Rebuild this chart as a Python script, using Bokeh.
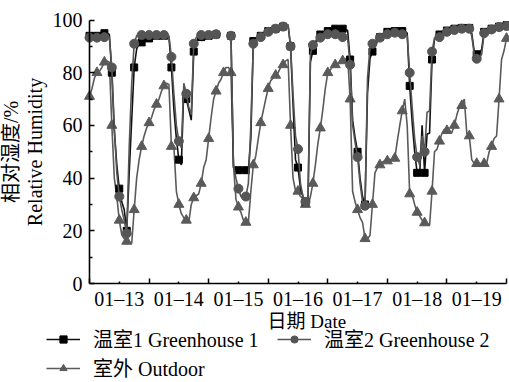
import numpy as np
from bokeh.plotting import figure
from bokeh.models import (Range1d, FixedTicker, Legend, LegendItem, Label,
                          ColumnDataSource, CDSView, IndexFilter)
from bokeh.embed import file_html
from bokeh.resources import INLINE

nan = float("nan")

# hours since 01-13 00:00
hours = list(range(169))

gh1 = [94, 94, 94, 94, 94, 94.5, 95, 95, 94.5, 80,
       58, 45, 36, 31, 28, 20, 42, 62, 82, 89,
       91, 91.5, 92, 92.5, 93, 93.5, 94, 94, 94, 94,
       94, 94, 93.5, 82, 66, 55, 47, 45, 74, 70,
       66, 62, 88, 92, 93, 93.5, 94, 94, 94, 94,
       94, 94.5, nan, nan, nan, nan, nan, 94, 44, 43.5,
       43, 43, 43, 43, 43, 55, 92, 92.7, 93, 94,
       94.5, 95, 95.8, 96, 96.5, 96.7, 97, 97.2, 97.5, 97.7,
       98, 90, 68, 47, 44, 36, 33, 31, 30, 84,
       88.3, 90.5, 93, 94.5, 95.2, 95.8, 95.8, 96, 96.5, 96.7,
       96.7, 96.7, 96.7, 96.5, 96, 85, 62, 55.4, 50, 40,
       33, 30, 72, 85.5, 88, 90, 92, 93.5, 94.5, 95.2,
       95.5, 95.8, 95.8, 95.8, 95.8, 95.8, 95.8, 95.8, 95, 75,
       61, 50, 42, 41, 60, 42, 56.7, 57, 85, 92.5,
       93.5, 94.5, 95, 95.5, 96, 96, 96.2, 96.7, 96.7, 97,
       97, 97, 97, 97, 95, 88, 87, 87, 89, 95.5,
       96, 96.5, 96.7, 96.7, 97.5, 97.5, 97.7, 98, 98]

gh2 = [93.3, 93.3, 93.3, 93.3, 93.3, 93.5, 93.5, 93.5, 93.3, 82,
       59, 42, 33, 28, 24, 19, 52, 76, 91, 94,
       94.3, 94.3, 94.3, 94.3, 94.3, 94.3, 94.3, 94.3, 94.3, 94.3,
       94.3, 94.3, 94, 86, 72, 60, 54, 51.5, 76, 72,
       67, 64, 91, 93.3, 94.3, 94.3, 94.3, 94.3, 94.3, 94.3,
       94.3, 94.6, nan, nan, nan, nan, nan, 94, 45, 40,
       36, 33, 32.5, 33, 38, 60, 91, 92.5, 93, 93.5,
       94.5, 95, 95.5, 96, 96.3, 96.7, 97, 97.2, 97.5, 97.7,
       98.3, 90, 72, 56, 51, 38, 33, 31, 29.5, 87,
       90.5, 92, 93, 93.3, 94, 94.5, 94.6, 94.6, 94.6, 94.6,
       94.3, 94, 93.5, 93.2, 93, 83, 60, 53.5, 48, 38,
       31, 29.5, 78, 89.5, 91, 92, 92.7, 93.3, 93.7, 94,
       94.6, 95, 95.2, 95.2, 95, 94.8, 94.6, 94.6, 94, 80,
       67, 55, 48, 45, 56, 50, 65, 65.5, 88, 93.3,
       92.5, 93.5, 94.5, 95.2, 95.5, 95.8, 95.8, 96.2, 96.5, 96.7,
       96.7, 96.7, 96.7, 96.7, 94, 87, 85.3, 85.3, 87, 95,
       95.4, 96, 96.4, 96.4, 97, 97.3, 97.5, 97.7, 97.7]

outdoor = [71, 74, 78, 80, 80.5, 82, 84, 84.5, 84, 60,
           40, 33, 24, 18.5, 17, 16, 15.5, 15.2, 28, 40,
           47, 52, 56, 59, 61, 63, 66, 68, 70, 73,
           75, 76, 75.5, 52, 52, 35, 30, 26.5, 25, 24,
           23.2, 30, 32.5, 33.3, 34, 38, 44, 47, 55, 63,
           70, 73, 76, 77.5, 80, 82, 82, 80, 45, 32,
           29, 27, 24, 23.2, 23, 35, 45, 48.5, 55, 61,
           65.5, 70, 74, 77, 78, 79, 80, 82, 83, 84.5,
           85, 60, 40, 35.2, 35, 33, 32.5, 30, 29.5, 33,
           38, 45, 53, 59, 66, 74, 80, 81, 82.5, 83,
           83.2, 84, 84.5, 85, 86, 70, 35, 31, 28, 25,
           23.2, 17, 17, 18.2, 30, 42, 44, 45, 46, 46.6,
           46.5, 47, 47, 47.5, 54, 60, 65.5, 70, 60, 34,
           33.5, 30, 27, 25.7, 24, 23, 22.5, 22, 35, 50,
           51, 54, 57, 58.6, 58, 57.5, 57.3, 60, 64, 67,
           67.5, 70, 57, 56, 47, 45.5, 45.5, 45.5, 45.5, 45.5,
           45.6, 50, 52, 55, 56, 70, 85, 88.3, 93]

day_labels = ["01–13", "01–14", "01–15", "01–16", "01–17", "01–18", "01–19"]
label_hours = [12, 36, 60, 84, 108, 132, 156]
midnight_hours = [0, 24, 48, 72, 96, 120, 144, 168]
y_ticks = [0, 20, 40, 60, 80, 100]
y_minor_ticks = [10, 30, 50, 70, 90]
marker_every = 3

FONT = "'Liberation Serif', 'Noto Sans CJK SC', serif"

# ---- layout (pixels inside the canvas) ----
W, H = 509, 382
AX_L, AX_R = 89.0, 506.0      # x of hour 0 and hour 168
AX_T, AX_B = 19.5, 283.0      # y of value 100 and value 0
X0, X1 = 0.0, 168.0
Y0, Y1 = 0.0, 100.0
sx = (AX_R - AX_L) / (X1 - X0)
sy = (AX_B - AX_T) / (Y1 - Y0)
x_start = X0 - AX_L / sx
x_end = X1 + (W - AX_R) / sx
y_end = Y1 + AX_T / sy
y_start = Y0 - (H - AX_B) / sy

src = ColumnDataSource(dict(h=np.array(hours, dtype=float),
                            gh1=np.array(gh1, dtype=float),
                            gh2=np.array(gh2, dtype=float),
                            out=np.array(outdoor, dtype=float)))
mview = CDSView(filter=IndexFilter(list(range(0, len(hours), marker_every))))

p = figure(width=W, height=H, output_backend="svg", toolbar_location=None,
           x_range=Range1d(x_start, x_end), y_range=Range1d(y_start, y_end),
           min_border=0, min_border_left=0, min_border_right=0,
           min_border_top=0, min_border_bottom=0)
p.outline_line_color = None
p.grid.visible = False
p.background_fill_color = "white"
p.border_fill_color = "white"

c_out = "#5a5a5a"
c_gh2 = "#555555"
c_gh1 = "#111111"

lo = p.line("h", "out", source=src, line_color=c_out, line_width=1.6)
mo = p.scatter("h", "out", source=src, view=mview, marker="triangle", size=10,
               fill_color=c_out, line_color=c_out)
l1 = p.line("h", "gh1", source=src, line_color=c_gh1, line_width=1.6)
m1 = p.scatter("h", "gh1", source=src, view=mview, marker="square", size=7,
               fill_color="black", line_color="black")
l2 = p.line("h", "gh2", source=src, line_color=c_gh2, line_width=1.6)
m2 = p.scatter("h", "gh2", source=src, view=mview, marker="circle", size=9,
               fill_color=c_gh2, line_color=c_gh2)

xa = p.xaxis[0]
xa.ticker = FixedTicker(ticks=label_hours, minor_ticks=midnight_hours)
xa.major_label_overrides = {h: lab for h, lab in zip(label_hours, day_labels)}
xa.fixed_location = Y0
xa.bounds = (X0, X1)
ya = p.yaxis[0]
ya.ticker = FixedTicker(ticks=y_ticks, minor_ticks=y_minor_ticks)
ya.fixed_location = X0
ya.bounds = (Y0, Y1)

for ax in (xa, ya):
    ax.axis_line_color = "black"
    ax.axis_line_width = 1.6
    ax.major_tick_line_color = "black"
    ax.minor_tick_line_color = "black"
    ax.major_tick_line_width = 1.5
    ax.minor_tick_line_width = 1.5
    ax.major_tick_out = 0
    ax.minor_tick_out = 0
    ax.major_label_text_font = FONT
    ax.major_label_text_font_size = "20px"
    ax.major_label_text_color = "black"
    ax.axis_label_text_font = FONT
    ax.axis_label_text_font_size = "20px"
    ax.axis_label_text_font_style = "normal"
    ax.axis_label_text_color = "black"

xa.major_tick_in = 2
xa.minor_tick_in = 5
xa.major_label_standoff = 4
ya.major_tick_in = 5
ya.minor_tick_in = 3
ya.major_label_standoff = 7
ya.axis_label = "相对湿度/%\nRelative Humidity"
ya.axis_label_standoff = 4
ya.axis_label_text_line_height = 1.05

# x-axis title, placed in data space below the axis
xt = Label(x=X0 + (267 - AX_L) / sx, y=Y0 - 38 / sy, text="日期 Date",
           text_font=FONT, text_font_size="19px", text_color="black",
           text_align="left", text_baseline="middle")
p.add_layout(xt)

legend = Legend(items=[LegendItem(label="温室1 Greenhouse 1", renderers=[l1, m1]),
                       LegendItem(label="室外 Outdoor", renderers=[lo, mo]),
                       LegendItem(label="温室2 Greenhouse 2", renderers=[l2, m2])],
                location=(46, 0), orientation="vertical", ncols=2,
                padding=0, margin=0, border_line_color=None,
                background_fill_alpha=0, glyph_width=34, glyph_height=18,
                label_height=18, label_standoff=13, spacing=0, label_width=184,
                label_text_font=FONT, label_text_font_size="20px",
                label_text_color="black")
p.add_layout(legend)

open("out.html", "w").write(file_html(p, INLINE))
